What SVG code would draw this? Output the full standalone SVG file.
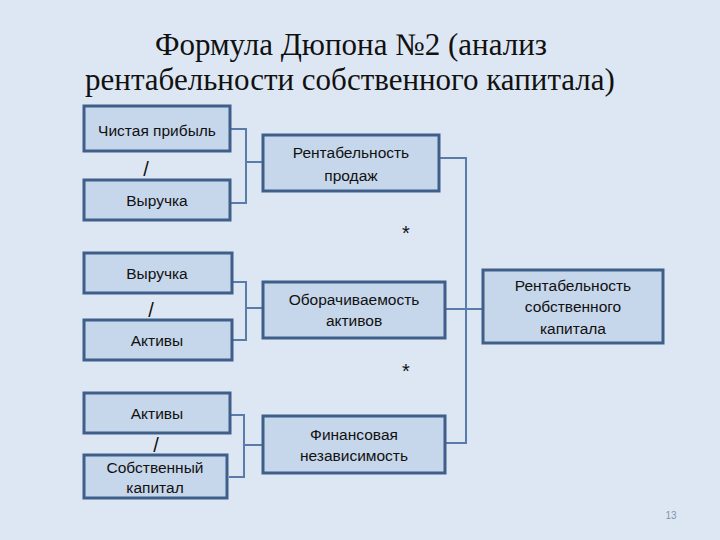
<svg xmlns="http://www.w3.org/2000/svg" width="720" height="540" viewBox="0 0 720 540">
<style>
.box{fill:#c6d6eb;stroke:#3f5e89;stroke-width:3}
.lbl{font-family:"Liberation Sans",Arial,sans-serif;font-size:15.5px;fill:#111;text-anchor:middle}
.op{font-family:"Liberation Sans",Arial,sans-serif;font-size:20px;fill:#111;text-anchor:middle}
.con{fill:none;stroke:#5a7cab;stroke-width:2}
.ttl{font-family:'Liberation Serif','DejaVu Serif',serif;font-size:31px;fill:#111;text-anchor:middle}
</style>
<rect x="0" y="0" width="720" height="540" fill="#dde7f3"/>
<text class="ttl" x="351" y="55">Формула Дюпона №2 (анализ</text>
<text class="ttl" x="350" y="90">рентабельности собственного капитала)</text>

<g id="connectors">
<polyline class="con" points="231,129 246,129 246,203 231,203"/>
<line class="con" x1="246" y1="162" x2="263" y2="162"/>
<polyline class="con" points="232,282 246,282 246,340 232,340"/>
<line class="con" x1="246" y1="308" x2="263" y2="308"/>
<polyline class="con" points="231,415 244,415 244,477 229,477"/>
<line class="con" x1="244" y1="445" x2="263" y2="445"/>
<polyline class="con" points="440,158 466,158 466,443 446,443"/>
<line class="con" x1="446" y1="309" x2="483" y2="309"/>
</g>

<g id="n-chistaya"><rect class="box" x="84" y="106" width="146" height="45"/><text class="lbl" x="157" y="136">Чистая прибыль</text></g>
<text class="op" x="146" y="176">/</text>
<g id="n-vyruchka1"><rect class="box" x="84" y="180" width="146" height="40"/><text class="lbl" x="157" y="206">Выручка</text></g>

<g id="n-vyruchka2"><rect class="box" x="84" y="253" width="148" height="40"/><text class="lbl" x="157" y="279">Выручка</text></g>
<text class="op" x="151" y="317">/</text>
<g id="n-aktivy1"><rect class="box" x="84" y="320" width="148" height="40"/><text class="lbl" x="157" y="346">Активы</text></g>

<g id="n-aktivy2"><rect class="box" x="84" y="393" width="146" height="40"/><text class="lbl" x="157" y="419">Активы</text></g>
<text class="op" x="156" y="452">/</text>
<g id="n-sobstv"><rect class="box" x="84" y="455" width="143" height="43"/><text class="lbl" x="155" y="473">Собственный</text><text class="lbl" x="155" y="493">капитал</text></g>

<g id="n-rent-prod"><rect class="box" x="263" y="135" width="176" height="56"/><text class="lbl" x="351" y="158">Рентабельность</text><text class="lbl" x="351" y="181">продаж</text></g>
<text class="op" x="406" y="240">*</text>
<g id="n-oborach"><rect class="box" x="263" y="282" width="182" height="56"/><text class="lbl" x="354" y="305">Оборачиваемость</text><text class="lbl" x="354" y="326">активов</text></g>
<text class="op" x="406" y="378">*</text>
<g id="n-fin"><rect class="box" x="263" y="416" width="182" height="57"/><text class="lbl" x="354" y="440">Финансовая</text><text class="lbl" x="354" y="461">независимость</text></g>

<g id="n-rent-sk"><rect class="box" x="483" y="270" width="180" height="73"/><text class="lbl" x="573" y="291">Рентабельность</text><text class="lbl" x="573" y="312">собственного</text><text class="lbl" x="573" y="334">капитала</text></g>

<text x="671" y="519" font-family="Liberation Sans,Arial,sans-serif" font-size="10" fill="#7f93ad" text-anchor="middle">13</text>
</svg>
